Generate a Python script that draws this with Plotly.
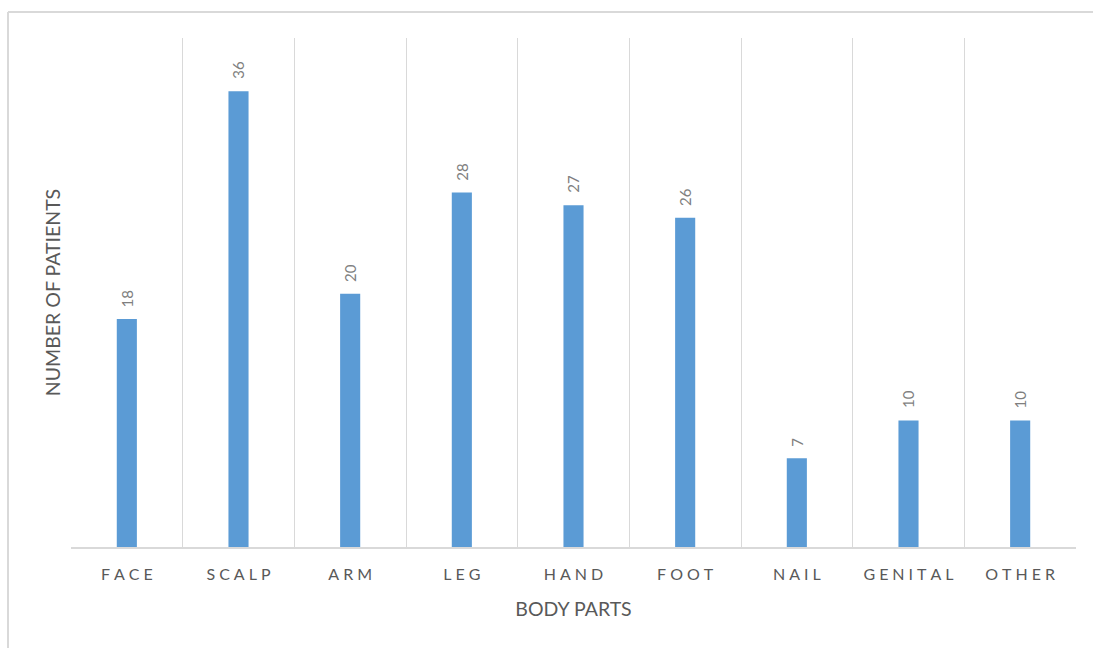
import plotly.graph_objects as go

# Body-part distribution of patients
body_parts = ["FACE", "SCALP", "ARM", "LEG", "HAND", "FOOT", "NAIL", "GENITAL", "OTHER"]
patients = [18, 36, 20, 28, 27, 26, 7, 10, 10]

BAR_COLOR = "#5b9bd5"
GRID_COLOR = "#d9d9d9"
TEXT_COLOR = "#595959"
LABEL_COLOR = "#7f7f7f"
FONT = "Lato, 'Open Sans', sans-serif"

# emulate letter spacing with narrow spaces between characters
spaced = ["\u2005".join(list(p)) for p in body_parts]
positions = list(range(len(body_parts)))

fig = go.Figure(
    go.Bar(
        x=positions,
        y=patients,
        width=0.18,
        marker=dict(color=BAR_COLOR, line=dict(width=0)),
        hoverinfo="skip",
    )
)

# value labels above each bar, rotated
for x, v in zip(positions, patients):
    fig.add_annotation(
        x=x, y=v, xref="x", yref="y",
        text=str(v), textangle=-90,
        showarrow=False, yanchor="bottom", xanchor="center",
        yshift=10,
        font=dict(family=FONT, size=15, color=LABEL_COLOR),
    )

fig.update_layout(
    width=1093,
    height=648,
    margin=dict(l=71, r=17, t=38, b=101),
    paper_bgcolor="white",
    plot_bgcolor="white",
    showlegend=False,
    font=dict(family=FONT, color=TEXT_COLOR),
    xaxis=dict(
        range=[-0.5, len(body_parts) - 0.5],
        tickvals=positions,
        ticktext=spaced,
        tickfont=dict(size=16, color=TEXT_COLOR),
        ticklabelstandoff=12,
        showgrid=False,
        zeroline=False,
        showline=True,
        linecolor=GRID_COLOR,
        linewidth=1.5,
        ticks="",
        minor=dict(
            tickvals=[p - 0.5 for p in positions] + [positions[-1] + 0.5],
            showgrid=True,
            gridcolor=GRID_COLOR,
            gridwidth=1,
            ticks="",
        ),
        title=dict(text="BODY PARTS", font=dict(size=19.5, color=TEXT_COLOR), standoff=20),
        fixedrange=True,
    ),
    yaxis=dict(
        range=[0, 40.2],
        showticklabels=False,
        showgrid=False,
        zeroline=False,
        showline=False,
        ticks="",
        title=dict(text="NUMBER OF PATIENTS", font=dict(size=19.5, color=TEXT_COLOR), standoff=4),
        fixedrange=True,
    ),
)

# chart-area frame (top and left edges)
fig.add_shape(type="line", xref="paper", yref="paper",
              x0=-0.0627, x1=1.02, y0=1.051, y1=1.051,
              line=dict(color=GRID_COLOR, width=2))
fig.add_shape(type="line", xref="paper", yref="paper",
              x0=-0.0627, x1=-0.0627, y0=1.051, y1=-0.21,
              line=dict(color=GRID_COLOR, width=2))

fig.write_html("out.html", config={"displayModeBar": False})
